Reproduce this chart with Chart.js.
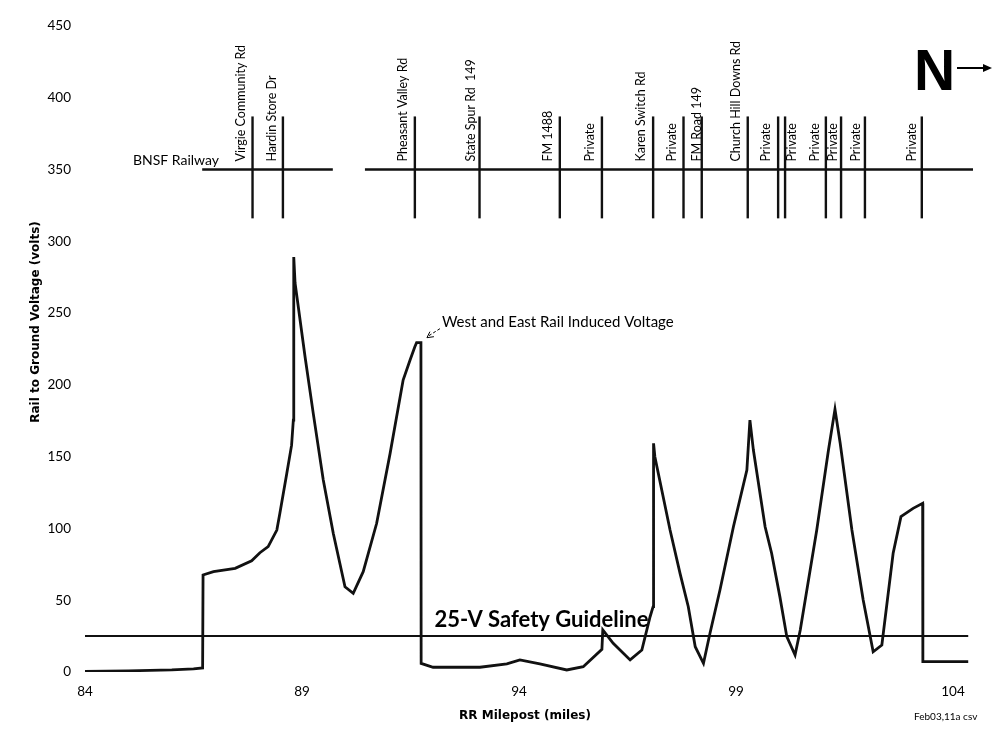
<!DOCTYPE html>
<html>
<head>
<meta charset="utf-8">
<script src="https://cdn.jsdelivr.net/npm/chart.js@4.4.1/dist/chart.umd.min.js"></script>
<style>
  html, body { margin: 0; padding: 0; background: #fff; }
  #wrap { width: 1004px; height: 739px; }
</style>
</head>
<body>
<div id="wrap"><canvas id="voltChart" width="1004" height="739"></canvas></div>
<script>
// Rail to ground voltage along the BNSF line, with road crossings drawn above

// measured profile (milepost, volts)
const milepost = [84, 85, 86, 86.5, 86.71, 86.72, 86.96, 87.46, 87.84, 88.03, 88.22, 88.42, 88.49, 88.65, 88.76, 88.80, 88.81,
  88.84, 89.07, 89.26, 89.49, 89.72, 89.99, 90.18, 90.41, 90.72, 91.03, 91.33, 91.49, 91.60, 91.64, 91.74, 91.745,
  92.02, 92.33, 93.10, 93.72, 94.02, 94.48, 95.10, 95.48, 95.91, 95.93, 96.17, 96.56, 96.83, 97.02, 97.09, 97.10,
  97.13, 97.48, 97.71, 97.90, 98.06, 98.25, 98.40, 98.63, 98.94, 99.25, 99.32, 99.40, 99.67, 99.82, 100.01, 100.17,
  100.36, 100.48, 100.86, 101.13, 101.28, 101.40, 101.67, 101.93, 102.16, 102.36, 102.62, 102.80, 103.08, 103.30,
  103.305, 104.35];
const voltage = [0.5, 0.8, 1.5, 2.2, 2.8, 67.6, 69.9, 72.2, 77.5, 83.1, 87.3, 98.9, 110.5, 138.4, 158, 175.5, 289,
  271, 219.6, 180, 133.7, 96.6, 59.4, 54.8, 69.9, 103.6, 152.3, 203.4, 217.3, 226.6, 229.4, 229.4, 6,
  3.3, 3.3, 3.3, 5.6, 8.4, 5.6, 1.4, 3.7, 15.8, 29.3, 20, 8.4, 15.3, 38.5, 45.5, 159.3,
  150, 98.9, 68.7, 45.5, 17.6, 6, 27, 57.1, 101.2, 140.7, 175.5, 154.6, 101.2, 82.7, 52.5, 24.6,
  11.8, 29.3, 98.9, 154.6, 183, 159.3, 98.9, 50.2, 14.1, 18.8, 82.7, 108.2, 114, 117.5,
  7.2, 7.2];

const safetyLevel = 25;
const safetyRange = [84, 104.35];

// railway schematic drawn in the upper band
const railwayLevel = 350;
const railwaySegments = [[86.70, 89.71], [90.45, 104.46]];
const crossingSpan = [316, 387];
const crossingMiles = [87.86, 88.56, 91.60, 93.09, 94.94, 95.91, 97.09, 97.79, 98.21, 99.27, 99.97, 100.13,
  101.07, 101.42, 101.97, 103.28];
const crossingNames = ['Virgie Community Rd', 'Hardin Store Dr', 'Pheasant Valley Rd', 'State Spur Rd  149',
  'FM 1488', 'Private', 'Karen Switch Rd', 'Private', 'FM Road 149', 'Church Hill Downs Rd', 'Private', 'Private',
  'Private', 'Private', 'Private', 'Private'];

const xTicks = [84, 89, 94, 99, 104];

// pixel nudges for the crossing names (negative = left of the road line)
const labelShift = [-12, -11, -12, -9, -12, -12, -12, -12, -5, -12, -12, 7, -11, -8, -9, -10];

const FONT = 'Lato, "Open Sans", sans-serif';
const TITLE_FONT = '"DejaVu Sans", sans-serif';
Chart.defaults.font.family = FONT;
Chart.defaults.color = '#000';

const lineStyle = (w) => ({
  borderColor: '#111',
  borderWidth: w,
  pointRadius: 0,
  showLine: true,
  tension: 0,
  fill: false
});

const datasets = [];

datasets.push(Object.assign({
  label: 'Rail to Ground Voltage',
  data: milepost.map((m, i) => ({ x: m, y: voltage[i] }))
}, lineStyle(2.8)));

datasets.push(Object.assign({
  label: '25-V Safety Guideline',
  data: safetyRange.map(m => ({ x: m, y: safetyLevel }))
}, lineStyle(2)));

railwaySegments.forEach(seg => {
  datasets.push(Object.assign({
    label: 'BNSF Railway',
    data: seg.map(m => ({ x: m, y: railwayLevel }))
  }, lineStyle(2.4)));
});

crossingMiles.forEach((m, i) => {
  datasets.push(Object.assign({
    label: crossingNames[i],
    data: crossingSpan.map(v => ({ x: m, y: v }))
  }, lineStyle(2.4)));
});

const overlayPlugin = {
  id: 'overlay',
  afterDatasetsDraw(chart) {
    const { ctx, scales: { x, y } } = chart;
    ctx.save();
    ctx.fillStyle = '#000';
    ctx.strokeStyle = '#000';

    // crossing names, written upward from just above the track
    const railY = y.getPixelForValue(railwayLevel);
    ctx.font = '12.5px ' + FONT;
    ctx.textAlign = 'left';
    ctx.textBaseline = 'middle';
    crossingNames.forEach((name, i) => {
      const px = x.getPixelForValue(crossingMiles[i]) + labelShift[i];
      ctx.save();
      ctx.translate(px, railY - 8);
      ctx.rotate(-Math.PI / 2);
      ctx.fillText(name, 0, 0);
      ctx.restore();
    });

    // railway name, sitting just above the start of the track
    ctx.font = '14px ' + FONT;
    ctx.textAlign = 'left';
    ctx.textBaseline = 'alphabetic';
    ctx.fillText('BNSF Railway', 133, railY - 5);

    // north arrow
    ctx.font = 'bold 57px "Liberation Sans", Arial, sans-serif';
    ctx.fillText('N', 914, 90);
    ctx.lineWidth = 2;
    ctx.beginPath();
    ctx.moveTo(957, 68);
    ctx.lineTo(986, 68);
    ctx.stroke();
    ctx.beginPath();
    ctx.moveTo(992, 68);
    ctx.lineTo(983, 64);
    ctx.lineTo(983, 72);
    ctx.closePath();
    ctx.fill();

    // annotation at the west/east rail peak
    const peakIdx = voltage.indexOf(Math.max(...voltage.slice(25, 35)));
    const pkX = x.getPixelForValue(milepost[peakIdx + 1]);
    const pkY = y.getPixelForValue(voltage[peakIdx + 1]);
    ctx.lineWidth = 1;
    ctx.setLineDash([3, 2]);
    ctx.beginPath();
    ctx.moveTo(pkX + 19, pkY - 14);
    ctx.lineTo(pkX + 8, pkY - 7);
    ctx.stroke();
    ctx.setLineDash([]);
    ctx.beginPath();
    ctx.moveTo(pkX + 6, pkY - 5);
    ctx.lineTo(pkX + 13, pkY - 6);
    ctx.moveTo(pkX + 6, pkY - 5);
    ctx.lineTo(pkX + 9, pkY - 11);
    ctx.stroke();
    ctx.font = '15px ' + FONT;
    ctx.textBaseline = 'middle';
    ctx.fillText('West and East Rail Induced Voltage', pkX + 21, pkY - 21);

    // safety guideline label
    const sY = y.getPixelForValue(safetyLevel);
    ctx.font = 'bold 22px ' + FONT;
    ctx.fillText('25-V Safety Guideline', x.getPixelForValue(92.05), sY - 16);

    // axis titles
    ctx.font = 'bold 12px ' + TITLE_FONT;
    ctx.textAlign = 'center';
    ctx.fillText('RR Milepost (miles)', 525, 716);
    ctx.save();
    ctx.translate(36, 322);
    ctx.rotate(-Math.PI / 2);
    ctx.fillText('Rail to Ground Voltage (volts)', 0, 0);
    ctx.restore();

    ctx.font = '10px ' + FONT;
    ctx.textAlign = 'left';
    ctx.fillText('Feb03,11a csv', 914, 717);

    ctx.restore();
  }
};

new Chart(document.getElementById('voltChart'), {
  type: 'scatter',
  data: { datasets: datasets },
  options: {
    responsive: false,
    animation: false,
    layout: { padding: { top: 26, right: 31, left: 0, bottom: 0 } },
    plugins: {
      legend: { display: false },
      tooltip: { enabled: false }
    },
    scales: {
      x: {
        type: 'linear',
        min: 84,
        max: 104.46,
        afterBuildTicks: scale => { scale.ticks = xTicks.map(v => ({ value: v })); },
        afterFit: scale => { scale.height = 67; },
        grid: { display: false, drawTicks: false },
        border: { display: false },
        ticks: { padding: 12, font: { size: 13.5 }, color: '#000' }
      },
      y: {
        min: 0,
        max: 450,
        afterFit: scale => { scale.width = 85; },
        grid: { display: false, drawTicks: false },
        border: { display: false },
        ticks: { stepSize: 50, padding: 14, font: { size: 13.5 }, color: '#000' }
      }
    }
  },
  plugins: [overlayPlugin]
});
</script>
</body>
</html>
